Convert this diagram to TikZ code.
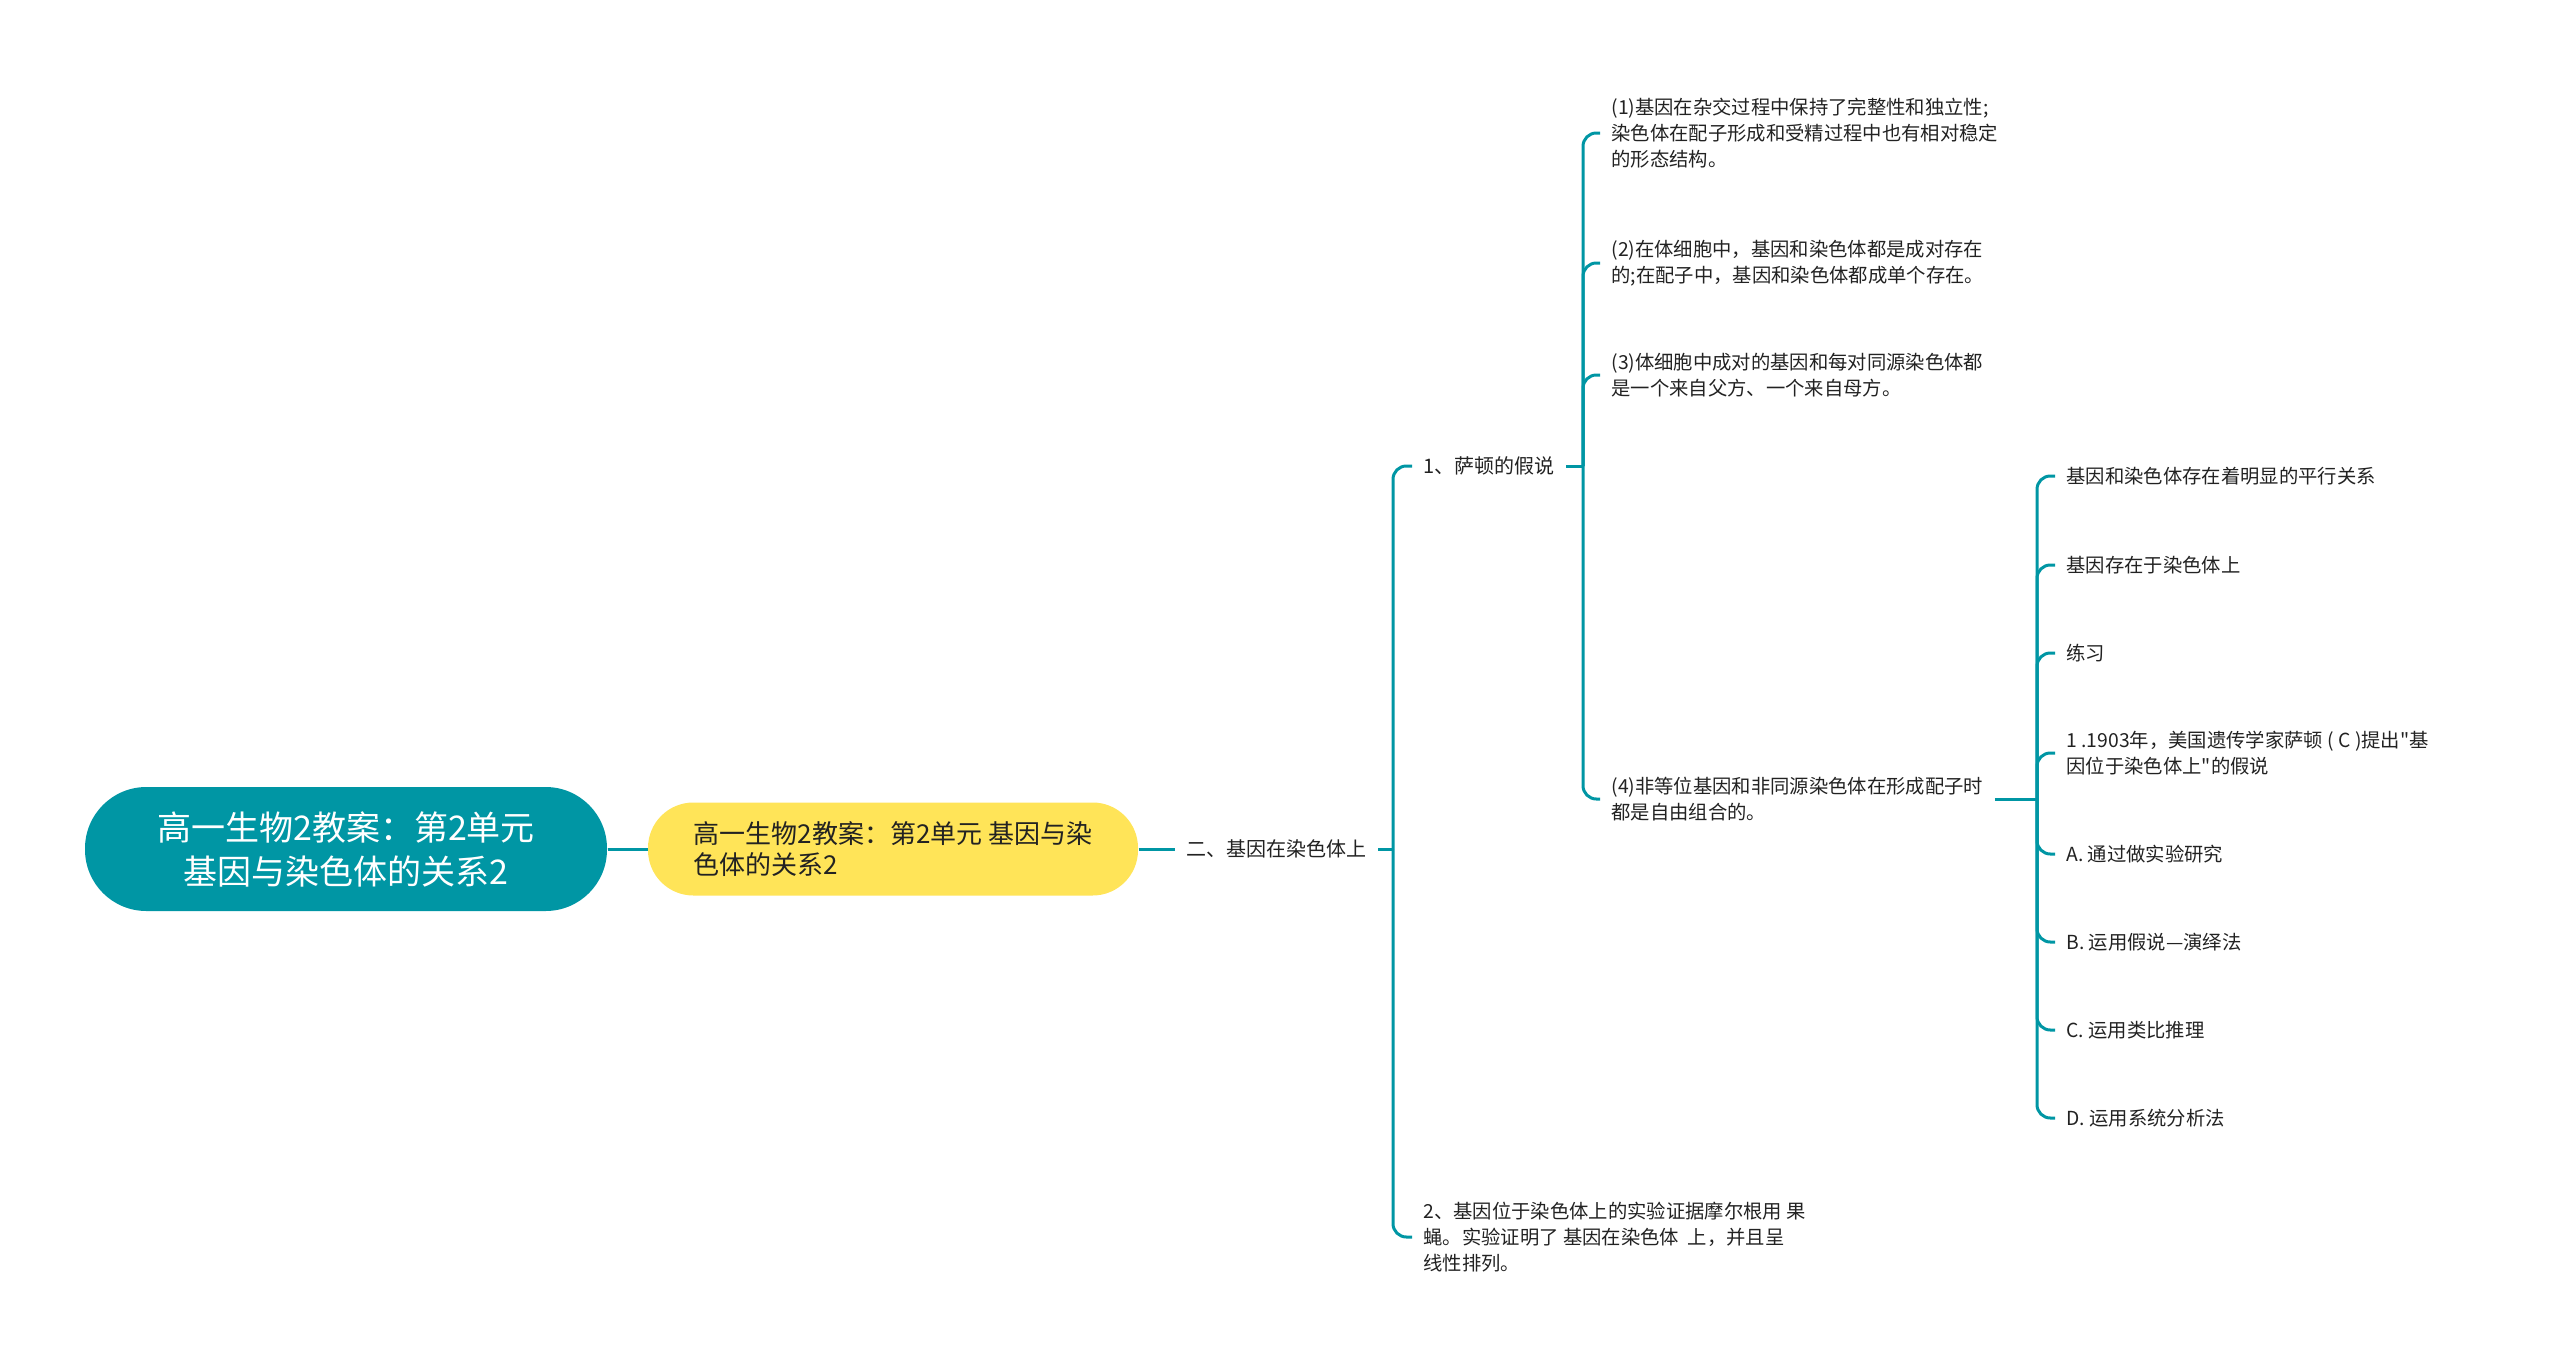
\documentclass[tikz,border=0pt]{standalone}
\usepackage{fontspec}
\newfontfamily\mmfont{Noto Sans CJK SC}

\definecolor{mmteal}{RGB}{0,150,164}
\definecolor{mmyellow}{RGB}{255,228,88}
\definecolor{mmtext}{RGB}{34,34,34}

\tikzset{every picture/.style={line width=0.75pt}}
\tikzset{
  mmroot/.style={rectangle, rounded corners=46pt, fill=mmteal, text=white, align=center,
    minimum width=391.5pt, minimum height=93pt, font=\mmfont\fontsize{25.5}{33}\selectfont},
  mmtitle/.style={rectangle, rounded corners=34pt, fill=mmyellow, text=mmtext, align=left,
    minimum width=367.5pt, minimum height=69.75pt, inner xsep=33pt, font=\mmfont\fontsize{19.5}{23.5}\selectfont},
  mmtopic/.style={anchor=west, inner xsep=8.25pt, text=mmtext, align=left, font=\mmfont\fontsize{15}{19.5}\selectfont},
  mmleaf/.style={anchor=west, inner xsep=8.25pt, text=mmtext, align=left, font=\mmfont\fontsize{14.5}{19.5}\selectfont},
  mmlink/.style={draw=mmteal, line width=2.25pt, rounded corners=10pt}
}

\begin{document}
\begin{tikzpicture}[x=0.75pt,y=0.75pt,yscale=-1,xscale=1]
\useasboundingbox (0,0) rectangle (2560,1367);

% root and title
\node [mmroot] (root) at (346,849) {高一生物2教案：第2单元\\基因与染色体的关系2};
\node [mmtitle] (title) at (893,849) {高一生物2教案：第2单元 基因与染\\色体的关系2};
\node [mmtopic] (sec2) at (1175,849) {二、基因在染色体上};

% second level
\node [mmtopic] (hyp) at (1412,466) {1、萨顿的假说};
\node [mmleaf] (exp) at (1412,1237) {2、基因位于染色体上的实验证据摩尔根用 果\\蝇。实验证明了 基因在染色体\ \ 上，并且呈\\线性排列。};

% Sutton's points
\node [mmleaf] (p1) at (1600,133) {(1)基因在杂交过程中保持了完整性和独立性;\\染色体在配子形成和受精过程中也有相对稳定\\的形态结构。};
\node [mmleaf] (p2) at (1600,263) {(2)在体细胞中，基因和染色体都是成对存在\\的;在配子中，基因和染色体都成单个存在。};
\node [mmleaf] (p3) at (1600,375) {(3)体细胞中成对的基因和每对同源染色体都\\是一个来自父方、一个来自母方。};
\node [mmleaf] (p4) at (1600,799) {(4)非等位基因和非同源染色体在形成配子时\\都是自由组合的。};

% items under (4)
\node [mmleaf] (q1) at (2055,476) {基因和染色体存在着明显的平行关系};
\node [mmleaf] (q2) at (2055,565) {基因存在于染色体上};
\node [mmleaf] (q3) at (2055,653) {练习};
\node [mmleaf] (q4) at (2055,753) {1 .1903年，美国遗传学家萨顿 ( C )提出"基\\因位于染色体上"的假说};
\node [mmleaf] (q5) at (2055,854) {A. 通过做实验研究};
\node [mmleaf] (q6) at (2055,942) {B. 运用假说—演绎法};
\node [mmleaf] (q7) at (2055,1030) {C. 运用类比推理};
\node [mmleaf] (q8) at (2055,1118) {D. 运用系统分析法};

% bracket points
\coordinate (b1) at (1393,849);
\coordinate (b2) at (1583,466);
\coordinate (b3) at (2037,799);

% connectors
\draw [mmlink] (root.east) -- (title.west);
\draw [mmlink] (title.east) -- (sec2.west);
\draw [mmlink] (sec2.east) -- (b1);
\foreach \n in {hyp,exp} \draw [mmlink] (b1) |- (\n.west);
\draw [mmlink] (hyp.east) -- (b2);
\foreach \n in {p1,p2,p3,p4} \draw [mmlink] (b2) |- (\n.west);
\draw [mmlink] (p4.east) -- (b3);
\foreach \n in {q1,q2,q3,q4,q5,q6,q7,q8} \draw [mmlink] (b3) |- (\n.west);

\end{tikzpicture}
\end{document}
